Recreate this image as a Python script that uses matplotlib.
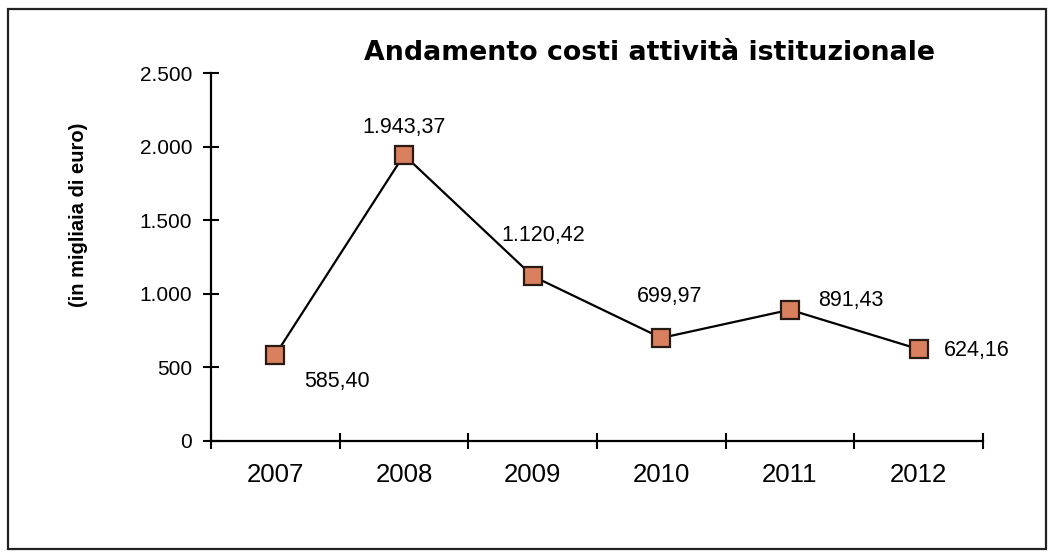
import matplotlib.pyplot as plt
from matplotlib.patches import Rectangle

anni = ["2007", "2008", "2009", "2010", "2011", "2012"]
costi = [585.40, 1943.37, 1120.42, 699.97, 891.43, 624.16]
etichette = ["585,40", "1.943,37", "1.120,42", "699,97", "891,43", "624,16"]
y_ticks = [0, 500, 1000, 1500, 2000, 2500]
y_labels = ["0", "500", "1.000", "1.500", "2.000", "2.500"]

# label offsets in points (dx, dy) and alignment
offsets = [(21, -19, "left"), (0, 20, "center"), (8, 29, "center"),
           (6, 30, "center"), (20, 7, "left"), (18, -1, "left")]

fig = plt.figure(figsize=(10.53, 5.57), dpi=100)
fig.patches.append(Rectangle((0.008, 0.015), 0.985, 0.968, transform=fig.transFigure,
                             fill=False, edgecolor="#222222", linewidth=1.6))

ax = fig.add_axes([0.2004, 0.2083, 0.733, 0.6606])
x = range(len(anni))
ax.plot(x, costi, color="black", linewidth=1.6, marker="s", markersize=12.5,
        markerfacecolor="#d9805f", markeredgecolor="#2a1a14", markeredgewidth=1.6)

for i, (v, t) in enumerate(zip(costi, etichette)):
    dx, dy, ha = offsets[i]
    ax.annotate(t, (i, v), xytext=(dx, dy), textcoords="offset points",
                ha=ha, va="center", fontsize=15.5, family="Liberation Sans")

ax.set_xlim(-0.5, 5.5)
ax.set_ylim(0, 2500)
ax.set_yticks(y_ticks)
ax.set_yticklabels(y_labels, fontsize=15, family="Liberation Sans")
ax.set_xticks([i + 0.5 for i in range(-1, 6)], minor=False)
ax.set_xticklabels([])
ax.set_xticks(list(x), minor=True)
ax.set_xticklabels(anni, minor=True, fontsize=18.5, family="Liberation Sans")
ax.tick_params(axis="x", which="minor", length=0, pad=16)
ax.tick_params(axis="both", which="major", direction="inout", length=11, width=1.5)
ax.tick_params(axis="y", pad=8)

for s in ["top", "right"]:
    ax.spines[s].set_visible(False)
for s in ["left", "bottom"]:
    ax.spines[s].set_linewidth(1.6)

ax.set_ylabel("(in migliaia di euro)", fontsize=14.5, fontweight="bold",
              family="Liberation Sans")
ax.yaxis.set_label_coords(-0.16, 0.614)

fig.text(0.617, 0.904, "Andamento costi attività istituzionale", ha="center", va="center",
         fontsize=19.3, fontweight="bold", family="DejaVu Sans")

fig.savefig("out.png", dpi=100)
